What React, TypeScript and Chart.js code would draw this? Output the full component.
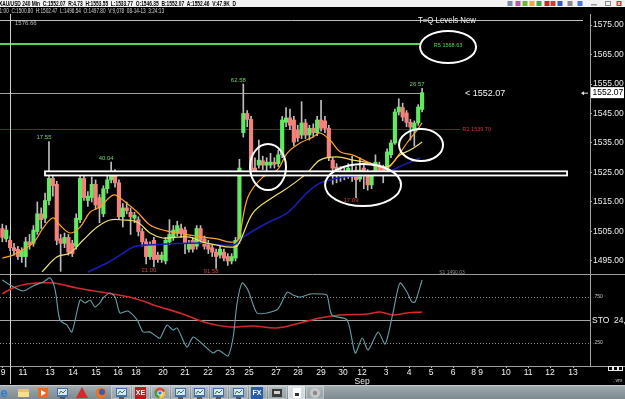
import React, { useEffect, useRef } from 'react';
import { Chart, registerables } from 'chart.js';

Chart.register(...registerables);

// ---------------- data ----------------
const opens = [1506.0,1502.5,1502.0,1499.5,1499.0,1496.5,1496.5,1501.5,1501.0,1505.0,1511.0,1509.5,1515.5,1523.0,1521.0,1502.5,1501.0,1503.0,1501.0,1500.0,1509.0,1523.0,1515.5,1516.5,1521.0,1516.5,1511.0,1519.5,1522.5,1524.0,1521.5,1510.0,1513.0,1511.5,1509.5,1509.0,1505.0,1501.5,1496.5,1502.0,1497.0,1495.5,1495.0,1501.5,1503.0,1504.5,1506.0,1505.5,1499.0,1502.0,1500.0,1506.0,1502.5,1500.5,1499.5,1498.0,1497.0,1498.0,1496.5,1495.0,1496.0,1502.0,1538.5,1545.0,1543.0,1526.5,1527.5,1529.0,1527.5,1527.5,1528.5,1528.0,1531.0,1542.0,1543.5,1542.8,1539.4,1537.7,1541.8,1537.7,1540.0,1538.5,1542.8,1542.5,1540.0,1529.2,1526.8,1524.2,1525.2,1525.2,1525.2,1525.8,1522.8,1526.5,1524.8,1520.8,1524.8,1527.5,1526.5,1525.8,1531.0,1535.0,1545.5,1547.0,1545.2,1542.0,1539.4,1541.8,1546.4];
const closes = [1503.0,1505.5,1499.5,1498.5,1496.5,1498.5,1501.5,1500.5,1505.5,1511.0,1509.0,1515.5,1523.0,1520.5,1502.0,1501.0,1503.0,1498.0,1497.5,1509.5,1523.0,1516.5,1517.0,1521.0,1514.0,1513.0,1519.5,1522.5,1524.5,1521.5,1510.0,1513.0,1512.0,1510.0,1510.5,1505.0,1501.5,1496.5,1500.5,1495.5,1495.5,1497.0,1502.0,1504.0,1505.5,1507.0,1504.5,1501.0,1501.0,1499.0,1506.0,1502.0,1500.0,1499.0,1498.0,1496.5,1499.0,1496.0,1495.0,1496.5,1502.0,1526.5,1545.0,1543.0,1526.0,1525.2,1529.2,1527.5,1528.5,1528.5,1527.8,1531.0,1542.8,1543.5,1541.0,1535.3,1536.7,1541.8,1537.7,1540.0,1538.5,1542.8,1540.0,1540.0,1530.0,1526.5,1525.2,1525.2,1524.2,1526.5,1523.5,1522.5,1525.8,1524.2,1520.8,1524.2,1528.5,1525.8,1524.2,1532.0,1535.0,1545.5,1547.2,1543.8,1542.0,1540.4,1541.8,1547.2,1552.07];
const highs = [1507.5,1507.0,1503.5,1501.0,1500.0,1499.5,1503.0,1504.0,1507.0,1515.0,1513.0,1518.0,1535.5,1524.5,1522.0,1504.0,1504.5,1504.0,1502.0,1511.0,1524.0,1524.0,1518.5,1523.5,1522.5,1517.5,1520.5,1524.0,1528.5,1526.0,1522.5,1514.5,1515.0,1513.0,1511.5,1510.0,1506.0,1502.5,1501.5,1503.0,1498.0,1498.0,1503.0,1509.0,1507.0,1508.5,1507.5,1506.5,1502.0,1503.0,1507.0,1507.0,1503.5,1502.0,1500.5,1499.0,1500.0,1499.0,1497.5,1497.5,1503.0,1529.5,1555.0,1546.0,1544.0,1530.0,1536.0,1530.5,1530.0,1531.5,1530.0,1532.5,1544.0,1547.0,1546.5,1544.0,1541.0,1549.0,1543.0,1541.0,1541.5,1544.0,1549.5,1544.0,1541.0,1530.0,1528.0,1527.0,1526.5,1528.0,1530.5,1527.0,1530.0,1528.0,1526.0,1525.5,1531.0,1528.5,1527.5,1533.0,1536.0,1546.5,1550.0,1548.5,1546.0,1543.0,1542.5,1548.0,1553.55];
const lows = [1501.5,1501.5,1498.5,1497.0,1495.5,1494.5,1493.0,1499.0,1500.0,1504.0,1506.0,1508.0,1514.0,1517.0,1500.5,1491.5,1499.5,1497.0,1496.5,1499.0,1508.0,1515.5,1513.5,1515.0,1512.5,1508.0,1510.0,1518.0,1521.5,1520.0,1509.0,1506.5,1511.0,1504.0,1508.0,1503.5,1500.0,1494.0,1495.5,1493.0,1494.5,1494.5,1494.0,1500.5,1502.0,1503.5,1503.0,1497.5,1498.0,1498.0,1499.0,1501.0,1499.0,1497.5,1496.5,1492.5,1496.0,1495.0,1493.5,1494.0,1495.0,1501.0,1537.0,1540.5,1525.0,1524.5,1526.5,1526.0,1525.5,1526.5,1526.5,1527.0,1530.0,1540.5,1539.5,1534.0,1535.5,1536.5,1536.5,1536.0,1537.0,1537.5,1539.0,1538.5,1529.0,1521.0,1521.5,1522.0,1522.5,1523.0,1522.0,1516.5,1522.0,1519.5,1519.0,1519.5,1524.0,1525.0,1521.5,1525.0,1530.0,1534.5,1544.5,1542.5,1540.5,1536.0,1534.0,1541.0,1545.5];

const priceTicks = [1495,1500,1505,1510,1515,1520,1525,1530,1535,1540,1545,1550,1555,1560,1565,1570,1575];

// x tick positions expressed in bar-index units
const xTickPos = [0.17,5.32,12.27,18.19,24.10,29.77,34.40,41.35,47.01,52.93,58.59,63.48,70.42,76.09,82.00,87.67,92.55,98.73,104.65,110.31,115.97,122.15,129.61,135.27,140.93,146.85];
const xTickLabels = ['9','11','13','14','15','16','18','20','21','22','23','25','27','28','29','30','12\nSep','3','4','5','6','8 9','10','11','12','13'];

// moving averages: [bar index, price]
const fastMA = [[0,1496.0],[2.7,1497.0],[7.9,1501.1],[10.5,1506.2],[13.0,1509.6],[14.8,1507.2],[17.4,1504.5],[20.0,1506.5],[22.6,1511.6],[25.1,1513.3],[27.7,1516.7],[29.0,1517.4],[31.6,1515.0],[34.7,1511.6],[38.0,1507.2],[41.3,1505.5],[45.0,1504.5],[48.3,1503.8],[51.6,1503.1],[55.2,1502.5],[58.6,1501.4],[60.6,1502.1],[63.2,1516.7],[67.1,1523.5],[70.7,1525.8],[73.3,1531.6],[76.6,1535.0],[79.9,1537.0],[81.7,1538.4],[84.3,1536.0],[86.9,1532.0],[90.2,1530.9],[94.6,1528.2],[99.0,1526.5],[101.6,1530.3],[104.1,1535.0],[106.7,1539.4],[108.0,1541.8]];
const midMA = [[10.2,1491.3],[14.1,1496.4],[17.4,1497.7],[20.8,1502.1],[24.4,1506.5],[27.7,1508.9],[31.1,1508.9],[34.7,1508.2],[38.0,1504.5],[41.3,1502.8],[45.0,1503.1],[48.3,1503.1],[51.6,1501.4],[55.2,1500.4],[58.6,1499.7],[60.6,1500.4],[64.5,1511.3],[69.7,1516.7],[73.3,1519.7],[78.4,1524.8],[81.7,1529.2],[86.1,1530.3],[90.2,1529.2],[94.6,1528.2],[99.0,1526.9],[102.3,1530.9],[104.9,1532.6],[108.0,1535.3]];
const slowMA = [[22.0,1491.3],[26.9,1494.3],[30.3,1497.0],[33.6,1499.7],[37.2,1500.4],[50.9,1501.1],[59.4,1500.4],[61.9,1503.1],[68.1,1507.9],[73.3,1511.3],[78.4,1518.1],[81.7,1521.4],[87.7,1523.5],[93.8,1524.2],[99.0,1525.2],[103.1,1527.5],[107.5,1529.9]];

// stochastic: [bar index, value]
const stochK = [[0,93.5],[2.0,88.0],[5.3,81.5],[7.9,87.0],[10.5,91.3],[12.3,95.7],[13.6,82.6],[14.8,50.0],[16.6,44.6],[17.9,37.0],[20.0,71.7],[21.3,68.5],[22.6,71.7],[23.8,64.1],[25.1,68.5],[25.9,73.9],[27.7,79.3],[29.0,75.0],[30.3,57.6],[32.3,59.8],[34.7,50.0],[36.2,37.0],[38.0,37.0],[39.8,31.5],[40.6,30.4],[42.4,44.6],[43.9,39.1],[45.0,41.3],[47.5,20.7],[49.1,31.5],[50.9,26.1],[54.2,14.1],[55.5,17.4],[56.8,14.1],[58.1,10.9],[59.4,31.5],[60.4,68.5],[61.7,90.2],[63.2,82.6],[65.5,57.6],[68.1,57.6],[70.9,62.0],[73.3,80.4],[74.8,77.2],[76.6,75.0],[79.2,78.3],[81.7,78.3],[83.5,77.2],[84.8,55.4],[88.7,50.0],[90.8,14.1],[92.6,30.4],[94.1,17.4],[96.7,37.0],[98.5,23.9],[100.5,57.6],[102.3,90.2],[104.1,80.4],[105.4,69.6],[106.2,69.6],[108.0,93.5]];
const stochD = [[0,78.3],[2.7,84.8],[6.3,89.1],[13.0,90.2],[19.2,84.8],[26.9,79.3],[33.6,73.9],[40.6,64.1],[45.7,57.6],[52.7,46.7],[58.6,42.4],[64.5,43.5],[70.7,41.3],[76.6,46.7],[81.7,52.2],[86.9,55.4],[93.8,56.5],[97.2,58.7],[100.5,55.4],[104.1,57.6],[108.0,58.7]];

const lastPrice = 1552.07;
const levelTQ = 1576.66;
const levelR5 = 1568.63;
const levelR2 = 1539.70;
const zoneTop = 1525.4;
const zoneBottom = 1524.0;
const zoneFrom = 10.98;
const zoneTo = 145.3;

// [bar index, price, text, above?]
const extremeLabels: [number, number, string, boolean][] = [
  [12, 1535.5, '17.55', true],
  [28, 1528.5, '40.04', true],
  [62, 1555.0, '62.58', true],
  [108, 1553.55, '26.57', true],
  [39, 1493.0, '21.00', false],
  [55, 1492.5, '91.58', false],
  [91, 1516.5, '17.09', false],
];

// hand drawn ellipses: [bar index, price, rx, ry]
const ellipses = [
  [68.36, 1526.86, 18, 23],
  [92.81, 1520.76, 38, 21],
  [107.73, 1534.32, 22, 16],
  [114.68, 1567.54, 28, 16],
];

const headerText = 'XAU/USD 240 Min  C:1552.07  R:4.73  H:1553.55  L:1533.77  O:1546.35  B:1552.07  A:1552.46  V:47.9K  D';
const subText = '01:00  C:1500.80  H:1502.47  L:1496.54  O:1497.80  V:9,078  08-14-13  3:24:13';

const FONT = '"Liberation Sans", Arial, sans-serif';
const UP = '#62e862';
const DN = '#f4827c';

// ---------------- drawing helpers ----------------
function hline(ctx: any, y: number, x0: number, x1: number, color: string, w = 1, dash: number[] = []) {
  ctx.save();
  ctx.beginPath();
  ctx.strokeStyle = color;
  ctx.lineWidth = w;
  ctx.setLineDash(dash);
  const yy = w % 2 === 1 ? Math.round(y) + 0.5 : Math.round(y);
  ctx.moveTo(x0, yy);
  ctx.lineTo(x1, yy);
  ctx.stroke();
  ctx.restore();
}

function text(ctx: any, s: string, x: number, y: number, color: string, size: number, align = 'left', base = 'middle', bold = false, maxW?: number) {
  ctx.save();
  ctx.fillStyle = color;
  ctx.font = `${bold ? 'bold ' : ''}${size}px ${FONT}`;
  ctx.textAlign = align;
  ctx.textBaseline = base;
  if (maxW) ctx.fillText(s, x, y, maxW); else ctx.fillText(s, x, y);
  ctx.restore();
}

function monitorIcon(ctx: any, x: number, y: number) {
  ctx.fillStyle = '#3f6ea8';
  ctx.fillRect(x - 5, y - 5, 11, 9);
  ctx.fillStyle = '#d6e6f4';
  ctx.fillRect(x - 4, y - 4, 9, 6);
  ctx.strokeStyle = '#3a7a3a';
  ctx.beginPath();
  ctx.moveTo(x - 3, y + 1); ctx.lineTo(x - 1, y - 2); ctx.lineTo(x + 1, y); ctx.lineTo(x + 4, y - 3);
  ctx.stroke();
  ctx.fillStyle = '#555';
  ctx.fillRect(x - 2, y + 4, 5, 2);
}

function drawTaskbar(ctx: any) {
  const top = 385;
  const g = ctx.createLinearGradient(0, top, 0, 399);
  g.addColorStop(0, '#a6b0b4');
  g.addColorStop(0.5, '#8e9a9f');
  g.addColorStop(1, '#7c898e');
  ctx.fillStyle = g;
  ctx.fillRect(0, top, 625, 399 - top);
  ctx.fillStyle = 'rgba(255,255,255,0.35)';
  ctx.fillRect(0, top, 625, 1);
  const btns = [[111, 131], [132, 150], [151, 170], [171, 190], [191, 209], [210, 228], [229, 248], [249, 267], [268, 287], [288, 305], [306, 324]];
  btns.forEach(([a, b], k) => {
    ctx.fillStyle = k === 9 ? 'rgba(235,240,245,0.75)' : 'rgba(200,210,215,0.35)';
    ctx.fillRect(a, top + 1, b - a, 13);
    ctx.strokeStyle = 'rgba(255,255,255,0.3)';
    ctx.strokeRect(a + 0.5, top + 1.5, b - a - 1, 12);
  });
  const cy = 393;
  text(ctx, 'e', 4, cy, '#2a7fd8', 13, 'center', 'middle', true);
  ctx.fillStyle = '#e8c45a'; ctx.fillRect(18, cy - 4, 11, 8);
  ctx.fillStyle = '#f6de8a'; ctx.fillRect(18, cy - 1, 11, 5);
  ctx.fillStyle = '#e86a2a'; ctx.fillRect(38, cy - 5, 10, 10);
  ctx.fillStyle = '#fff'; ctx.beginPath(); ctx.moveTo(41, cy - 3); ctx.lineTo(46, cy); ctx.lineTo(41, cy + 3); ctx.fill();
  monitorIcon(ctx, 62, cy);
  ctx.fillStyle = '#d82a2a'; ctx.beginPath(); ctx.moveTo(82, cy - 6); ctx.lineTo(88, cy + 5); ctx.lineTo(76, cy + 5); ctx.fill();
  ctx.fillStyle = '#e8742a'; ctx.beginPath(); ctx.arc(101, cy, 5.5, 0, Math.PI * 2); ctx.fill();
  ctx.fillStyle = '#3a5ab8'; ctx.beginPath(); ctx.arc(102, cy - 1, 3, 0, Math.PI * 2); ctx.fill();
  monitorIcon(ctx, 121, cy);
  ctx.fillStyle = '#b81c1c'; ctx.fillRect(135, cy - 6, 11, 12);
  text(ctx, 'XE', 140.5, cy + 0.5, '#fff', 7, 'center', 'middle', true);
  ctx.fillStyle = '#d84a3a'; ctx.beginPath(); ctx.arc(160, cy, 5.5, 0, Math.PI * 2); ctx.fill();
  ctx.fillStyle = '#3aa84a'; ctx.beginPath(); ctx.moveTo(160, cy); ctx.arc(160, cy, 5.5, Math.PI * 0.55, Math.PI * 1.2); ctx.fill();
  ctx.fillStyle = '#f2c83a'; ctx.beginPath(); ctx.moveTo(160, cy); ctx.arc(160, cy, 5.5, -Math.PI * 0.1, Math.PI * 0.55); ctx.fill();
  ctx.fillStyle = '#fff'; ctx.beginPath(); ctx.arc(160, cy, 2.6, 0, Math.PI * 2); ctx.fill();
  ctx.fillStyle = '#3a7ad8'; ctx.beginPath(); ctx.arc(160, cy, 1.8, 0, Math.PI * 2); ctx.fill();
  monitorIcon(ctx, 180, cy);
  monitorIcon(ctx, 199, cy);
  monitorIcon(ctx, 218, cy);
  monitorIcon(ctx, 238, cy);
  ctx.fillStyle = '#2a5aa8'; ctx.fillRect(251, cy - 6, 12, 12);
  text(ctx, 'FX', 257, cy, '#fff', 7, 'center', 'middle', true);
  ctx.fillStyle = '#3a3a3a'; ctx.fillRect(272, cy - 4, 10, 8);
  ctx.fillStyle = '#d0d0d0'; ctx.fillRect(274, cy - 2, 6, 3);
  ctx.fillStyle = '#ffffff'; ctx.fillRect(293, cy - 5, 8, 10);
  ctx.fillStyle = '#333'; ctx.fillRect(295, cy, 4, 3);
  ctx.fillStyle = '#c8c8c8'; ctx.beginPath(); ctx.arc(315, cy, 5, 0, Math.PI * 2); ctx.fill();
  ctx.fillStyle = '#8a8a8a'; ctx.beginPath(); ctx.arc(315, cy, 2.2, 0, Math.PI * 2); ctx.fill();
}

function drawHeader(ctx: any) {
  ctx.fillStyle = '#000';
  ctx.fillRect(0, 0, 625, 14);
  ctx.fillStyle = '#f2f2f2';
  ctx.fillRect(0, 0, 625, 7);
  text(ctx, headerText, -1, 6.3, '#000', 7, 'left', 'alphabetic', true, 237);
  text(ctx, subText, -3, 12.6, '#d4d4d4', 6.5, 'left', 'alphabetic', false, 167);
  const icons = ['#7a8aa8', '#b85aa8', '#6ab83a', '#e8a83a', '#3aa84a', '#c82a2a', '#d83a3a', '#3a5ab8', '#8a8a8a', '#4a7ad8', '#9a9a9a', '#8a8a8a', '#d82a2a'];
  const xs = [510, 518, 525, 532, 539, 547, 553, 560, 570, 580, 594, 608, 619];
  icons.forEach((c, k) => {
    ctx.fillStyle = c;
    if (k === 10) ctx.fillRect(xs[k] - 3, 4, 6, 1.5);
    else if (k === 11) { ctx.strokeStyle = c; ctx.strokeRect(xs[k] - 2.5, 1.5, 5, 4); }
    else ctx.fillRect(xs[k] - 2.5, 1, 5, 5);
  });
  text(ctx, 'x', 619, 3.6, '#fff', 6, 'center', 'middle', true);
}

const overlay = {
  id: 'overlay',
  beforeDraw(chart: any) {
    const { ctx } = chart;
    ctx.save();
    ctx.fillStyle = '#000';
    ctx.fillRect(0, 0, chart.width, chart.height);
    ctx.restore();
  },
  beforeDatasetsDraw(chart: any) {
    const { ctx, scales } = chart;
    const X = (v: number) => scales.x.getPixelForValue(v);
    const Y = (v: number) => scales.y.getPixelForValue(v);
    const S = (v: number) => scales.y2.getPixelForValue(v);
    hline(ctx, S(100) - 0.5, 0, 625, '#9c9c9c');
    hline(ctx, S(75), 0, 590, '#8c8c8c', 1, [1, 2]);
    hline(ctx, S(50), 0, 590, '#a4a4a4');
    hline(ctx, S(25), 0, 590, '#8c8c8c', 1, [1, 2]);
    hline(ctx, S(0), 590, 625, '#9c9c9c');
    hline(ctx, Y(levelTQ), 0, X(149.4), '#bdbdbd');
    hline(ctx, Y(levelR5), 0, X(107.5), '#54d854', 2);
    hline(ctx, Y(lastPrice), 0, X(108), '#a2a2a2');
    hline(ctx, Y(levelR2), 0, X(117.77), '#7e1e1e');
    ctx.save();
    ctx.strokeStyle = '#cfcfcf';
    ctx.lineWidth = 1;
    const cx = Math.round(X(1.85)) + 0.5;
    ctx.beginPath();
    ctx.moveTo(cx, 14);
    ctx.lineTo(cx, 384);
    ctx.stroke();
    ctx.restore();
  },
  afterDatasetsDraw(chart: any) {
    const { ctx, scales } = chart;
    const X = (v: number) => scales.x.getPixelForValue(v);
    const Y = (v: number) => scales.y.getPixelForValue(v);
    ctx.save();
    const x0 = X(zoneFrom), x1 = X(zoneTo), y0 = Y(zoneTop), y1 = Y(zoneBottom);
    ctx.fillStyle = '#000';
    ctx.fillRect(x0, y0, x1 - x0, y1 - y0);
    ctx.strokeStyle = '#ffffff';
    ctx.lineWidth = 1.8;
    ctx.strokeRect(x0, y0, x1 - x0, y1 - y0);
    ctx.restore();
    extremeLabels.forEach(([i, p, t, up]) => {
      const px = X(i) + 2.5;
      const py = Y(p);
      text(ctx, t, px, up ? py - 4 : py + 3, up ? '#6ad46a' : '#d04040', 6, 'right', 'middle');
    });
    ctx.save();
    ctx.strokeStyle = '#ffffff';
    ctx.lineWidth = 2;
    ellipses.forEach(([i, p, rx, ry]) => {
      ctx.beginPath();
      ctx.ellipse(X(i), Y(p), rx, ry, 0, 0, Math.PI * 2);
      ctx.stroke();
    });
    ctx.restore();
    text(ctx, 'T=Q Levels New', X(114.4), Y(levelTQ) + 0.5, '#f0f0f0', 8.5, 'center', 'middle', false, 58);
    text(ctx, '1576.66', 15, Y(levelTQ) + 3.5, '#bcbcbc', 6, 'left', 'middle');
    text(ctx, 'R5 1568.63', X(114.68), Y(levelR5) + 1.5, '#5ad85a', 5.5, 'center', 'middle');
    text(ctx, '< 1552.07', 465, Y(lastPrice) + 1, '#f4f4f4', 9, 'left', 'middle');
    text(ctx, 'R2 1539.70', X(118.4), Y(levelR2), '#c83c3c', 5.5, 'left', 'middle');
    text(ctx, 'S1 1490.03', X(112.4), 272.5, '#8c8c8c', 5, 'left', 'middle');
  },
  afterDraw(chart: any) {
    const { ctx, scales } = chart;
    const Y = (v: number) => scales.y.getPixelForValue(v);
    const S = (v: number) => scales.y2.getPixelForValue(v);
    drawHeader(ctx);
    const ly = Y(lastPrice);
    ctx.fillStyle = '#ffffff';
    ctx.fillRect(591, ly - 5.5, 33, 11);
    text(ctx, '1552.07', 592.5, ly + 0.5, '#000', 8.5, 'left', 'middle');
    ctx.strokeStyle = '#e0e0e0';
    ctx.beginPath(); ctx.moveTo(582, ly + 0.5); ctx.lineTo(588, ly + 0.5); ctx.stroke();
    ctx.fillStyle = '#e0e0e0';
    ctx.beginPath(); ctx.moveTo(581, ly + 0.5); ctx.lineTo(584, ly - 1.5); ctx.lineTo(584, ly + 2.5); ctx.fill();
    text(ctx, '.750', 593, S(75), '#c4c4c4', 5, 'left', 'middle');
    text(ctx, '.250', 593, S(25), '#c4c4c4', 5, 'left', 'middle');
    text(ctx, 'STO  24,', 592, S(50) + 0.5, '#f0f0f0', 8.5, 'left', 'middle');
    ctx.strokeStyle = '#e8e8e8';
    ctx.lineWidth = 1;
    [608, 613, 618].forEach((bx) => ctx.strokeRect(bx + 0.5, 366.5, 4, 4));
    text(ctx, '.vm', 614, 381, '#d8d8d8', 5, 'left', 'middle');
    drawTaskbar(ctx);
  },
};

export default function App() {
  const ref = useRef<HTMLCanvasElement>(null);
  useEffect(() => {
    document.body.style.margin = '0';
    document.body.style.background = '#000';
    const idx = opens.map((_, i) => i);
    const pts = (arr: number[][]) => arr.map(([x, y]) => ({ x, y }));
    const chart = new Chart(ref.current as HTMLCanvasElement, {
      type: 'bar',
      data: {
        datasets: [
          { type: 'line', label: 'fast', data: pts(fastMA), borderColor: '#ffa224', borderWidth: 1.2, pointRadius: 0, tension: 0.35, yAxisID: 'y', order: 0 } as any,
          { type: 'line', label: 'mid', data: pts(midMA), borderColor: '#ede06a', borderWidth: 1.2, pointRadius: 0, tension: 0.35, yAxisID: 'y', order: 0 } as any,
          { type: 'line', label: 'slow', data: pts(slowMA), borderColor: '#1c1cb4', borderWidth: 1.6, pointRadius: 0, tension: 0.35, yAxisID: 'y', order: 0 } as any,
          { type: 'line', label: 'stoK', data: pts(stochK), borderColor: '#6a9ea6', borderWidth: 1.1, pointRadius: 0, tension: 0.25, yAxisID: 'y2', order: 0 } as any,
          { type: 'line', label: 'stoD', data: pts(stochD), borderColor: '#d42a2a', borderWidth: 1.6, pointRadius: 0, tension: 0.35, yAxisID: 'y2', order: 0 } as any,
          {
            type: 'bar', label: 'body',
            data: idx.map((i) => ({ x: i, y: [opens[i], closes[i]] })),
            backgroundColor: (c: any) => (closes[c.dataIndex] >= opens[c.dataIndex] ? UP : DN),
            barThickness: 3.5, grouped: false, borderWidth: 0, yAxisID: 'y', order: 1,
          } as any,
          {
            type: 'bar', label: 'wick',
            data: idx.map((i) => ({ x: i, y: [lows[i], highs[i]] })),
            backgroundColor: '#bcbcbc',
            barThickness: 1, grouped: false, borderWidth: 0, yAxisID: 'y', order: 2,
          } as any,
        ],
      },
      options: {
        animation: false,
        responsive: false,
        devicePixelRatio: 1,
        events: [],
        layout: { padding: { top: 14, left: 0, right: 0, bottom: 0 } },
        plugins: { legend: { display: false }, tooltip: { enabled: false } },
        scales: {
          x: {
            type: 'linear', min: -0.6, max: 151.2, offset: false,
            grid: { display: true, drawOnChartArea: false, drawTicks: true, tickLength: 2, color: '#bdbdbd', offset: false },
            border: { display: true, color: '#9c9c9c' },
            ticks: {
              color: '#f2f2f2', font: { family: FONT, size: 8.5, lineHeight: 1.05 }, padding: 0.5,
              maxRotation: 0, minRotation: 0, autoSkip: false,
              callback: (_v: any, i: number) => {
                const l = xTickLabels[i] || '';
                return l.includes('\n') ? l.split('\n') : l;
              },
            },
            afterBuildTicks: (s: any) => { s.ticks = xTickPos.map((v) => ({ value: v })); },
            afterFit: (s: any) => { s.height = 33; s.paddingLeft = 0; s.paddingRight = 0; },
          } as any,
          y: {
            type: 'linear', position: 'right', stack: 'panes', stackWeight: 260,
            min: 1490.593, max: 1578.729, offset: false, beginAtZero: false,
            grid: { display: true, drawOnChartArea: false, drawTicks: true, tickLength: 2, color: '#a4a4a4' },
            border: { display: true, color: '#a4a4a4' },
            ticks: { color: '#ececec', font: { family: FONT, size: 8.5 }, padding: 1, callback: (v: any) => Number(v).toFixed(2) },
            afterBuildTicks: (s: any) => { s.ticks = priceTicks.map((v) => ({ value: v })); },
            afterFit: (s: any) => { s.width = 35; s.paddingTop = 0; s.paddingBottom = 0; },
          } as any,
          y2: {
            type: 'linear', position: 'right', stack: 'panes', stackWeight: 92,
            min: 0, max: 100, offset: false, beginAtZero: false,
            grid: { display: false },
            border: { display: true, color: '#a4a4a4' },
            ticks: { display: false },
            afterFit: (s: any) => { s.width = 35; s.paddingTop = 0; s.paddingBottom = 0; },
          } as any,
        },
      } as any,
      plugins: [overlay],
    });
    return () => chart.destroy();
  }, []);
  return (
    <div style={{ position: 'fixed', left: 0, top: 0, width: 625, height: 399, background: '#000' }}>
      <canvas ref={ref} width={625} height={399} style={{ display: 'block', width: 625, height: 399 }} />
    </div>
  );
}
